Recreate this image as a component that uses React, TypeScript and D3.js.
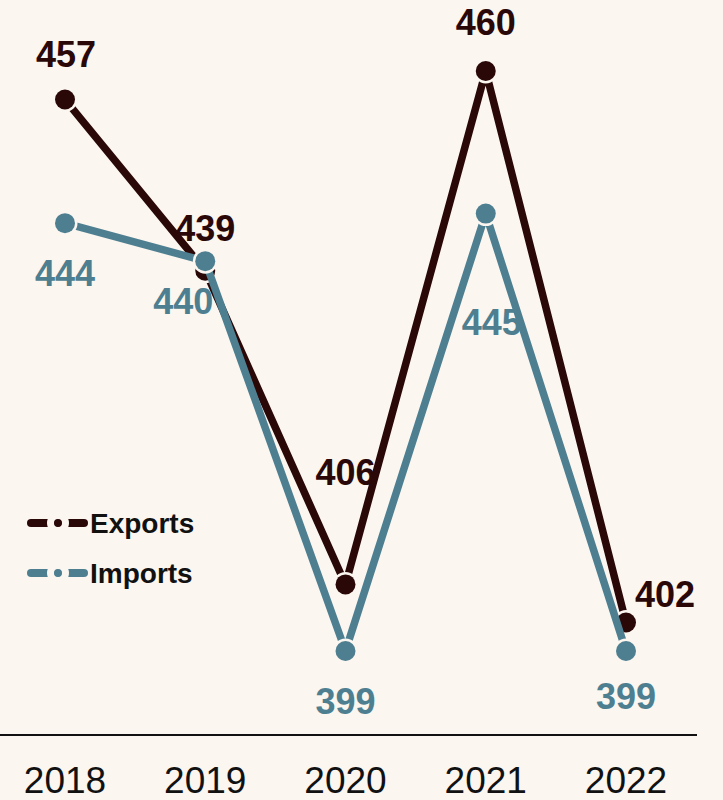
import React from "react";
import * as d3 from "d3";

const years = ["2018", "2019", "2020", "2021", "2022"];
const exportsVals = [457, 439, 406, 460, 402];
const importsVals = [444, 440, 399, 445, 399];
const seriesNames = ["Exports", "Imports"];

const W = 723;
const H = 800;
const BG = "#fbf6f0";
const C_EXP = "#2a0808";
const C_IMP = "#4e7f91";

// label offsets (dx, dy) relative to each point, for readability
const expLabelOff: [number, number, string][] = [
  [1, -45, "middle"],
  [0, -43, "middle"],
  [0, -112, "middle"],
  [0, -49, "middle"],
  [9, -28, "start"],
];
const impLabelOff: [number, number, string][] = [
  [0, 50, "middle"],
  [-22, 40, "middle"],
  [0, 50, "middle"],
  [6, 108, "middle"],
  [0, 45, "middle"],
];

export default function App() {
  const x = d3.scalePoint<string>().domain(years).range([65, 626]);
  const y = d3.scaleLinear().domain([399, 460]).range([651, 71]);
  const line = d3
    .line<number>()
    .x((_, i) => x(years[i])!)
    .y((d) => y(d));

  const series = [
    { name: seriesNames[0], vals: exportsVals, color: C_EXP, off: expLabelOff },
    { name: seriesNames[1], vals: importsVals, color: C_IMP, off: impLabelOff },
  ];

  return (
    <svg
      width={W}
      height={H}
      style={{ position: "absolute", left: 0, top: 0, background: BG }}
      fontFamily="Liberation Sans, Arial, sans-serif"
    >
      <rect width={W} height={H} fill={BG} />
      <line x1={0} x2={697} y1={735} y2={735} stroke="#111" strokeWidth={2} />
      {years.map((yr) => (
        <text
          key={yr}
          x={x(yr)}
          y={793}
          textAnchor="middle"
          fontSize={37}
          fill="#111"
        >
          {yr}
        </text>
      ))}
      {series.map((s) => (
        <g key={s.name}>
          <path
            d={line(s.vals) || ""}
            fill="none"
            stroke={s.color}
            strokeWidth={7.5}
            strokeLinejoin="round"
          />
          {s.vals.map((v, i) => (
            <circle
              key={i}
              cx={x(years[i])}
              cy={y(v)}
              r={10}
              fill={s.color}
              stroke={BG}
              strokeWidth={5}
              paintOrder="stroke"
            />
          ))}
        </g>
      ))}
      {series.map((s) =>
        s.vals.map((v, i) => (
          <text
            key={s.name + i}
            x={x(years[i])! + s.off[i][0]}
            y={y(v) + s.off[i][1]}
            dy="0.36em"
            textAnchor={s.off[i][2] as any}
            fontSize={36}
            fontWeight="bold"
            fill={s.color}
          >
            {v}
          </text>
        ))
      )}
      {series.map((s, k) => {
        const cy = 523 + k * 50;
        return (
          <g key={"lg" + s.name}>
            <line x1={31} x2={84} y1={cy} y2={cy} stroke={s.color} strokeWidth={8} strokeLinecap="round" />
            <circle cx={58} cy={cy} r={3.5} fill={s.color} stroke={BG} strokeWidth={15} paintOrder="stroke" />
            <text x={90} y={cy} dy="0.36em" fontSize={28} fontWeight="bold" fill="#111">
              {s.name}
            </text>
          </g>
        );
      })}
    </svg>
  );
}
